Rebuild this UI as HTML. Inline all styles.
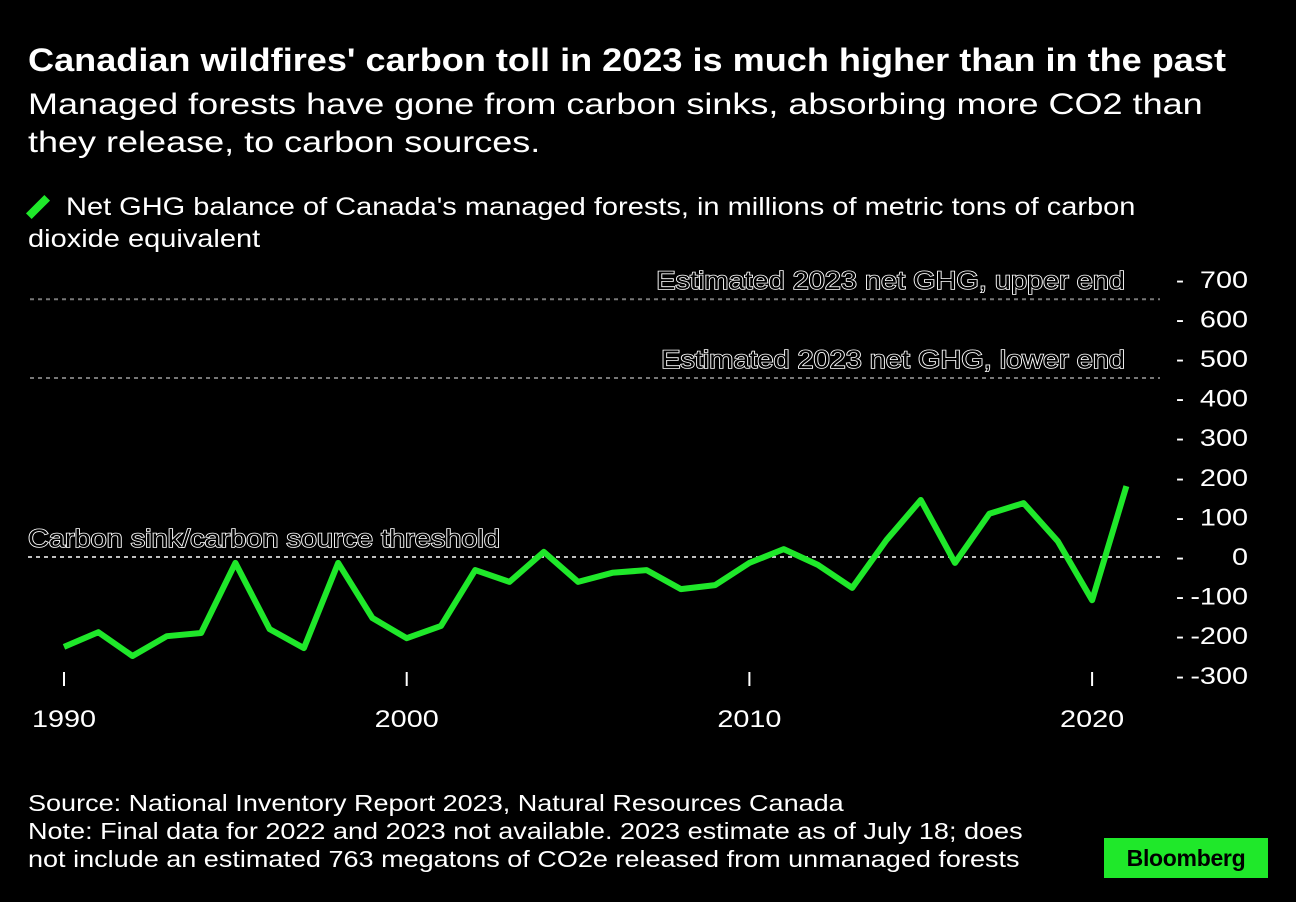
<!DOCTYPE html>
<html><head><meta charset="utf-8">
<style>
body{margin:0;background:#000;width:1296px;height:902px;overflow:hidden;font-family:"Liberation Sans",sans-serif;color:#fff}
.t{position:absolute;left:28px;white-space:nowrap;transform-origin:0 0}
</style></head><body>
<div class="t" style="top:42px;font-size:32px;font-weight:bold;transform:scaleX(1.128)">Canadian wildfires' carbon toll in 2023 is much higher than in the past</div>
<div class="t" style="top:86px;font-size:30px;line-height:38px;transform:scaleX(1.2)">Managed forests have gone from carbon sinks, absorbing more CO2 than<br>they release, to carbon sources.</div>
<div style="position:absolute;left:34px;top:194px;width:8px;height:26px;background:#1fe82a;transform:rotate(45deg);transform-origin:center"></div>
<div class="t" style="left:66px;top:191px;font-size:25px;line-height:32px;transform:scaleX(1.16)">Net GHG balance of Canada's managed forests, in millions of metric tons of carbon</div>
<div class="t" style="top:223px;font-size:25px;line-height:32px;transform:scaleX(1.16)">dioxide equivalent</div>
<svg id="c" width="1296" height="902" style="position:absolute;left:0;top:0"></svg>
<div class="t" style="top:789px;font-size:23px;line-height:28px;transform:scaleX(1.175)">Source: National Inventory Report 2023, Natural Resources Canada<br>Note: Final data for 2022 and 2023 not available. 2023 estimate as of July 18; does<br>not include an estimated 763 megatons of CO2e released from unmanaged forests</div>
<div style="position:absolute;left:1104px;top:838px;width:164px;height:40px;background:#1fe82a;color:#000;font-weight:bold;font-size:23px;line-height:40px;text-align:center;letter-spacing:-0.3px">Bloomberg</div>
<script>
const years=[1990,1991,1992,1993,1994,1995,1996,1997,1998,1999,2000,2001,2002,2003,2004,2005,2006,2007,2008,2009,2010,2011,2012,2013,2014,2015,2016,2017,2018,2019,2020,2021];
const values=[-227,-190,-250,-200,-192,-15,-182,-230,-15,-154,-205,-174,-33,-63,13,-63,-40,-33,-81,-71,-15,20,-20,-78,43,144,-15,109,136,40,-109,179];
const yTicks=[700,600,500,400,300,200,100,0,-100,-200,-300];
const xTicks=[1990,2000,2010,2020];
const refValues=[651,452,0];
const refLabels=["Estimated 2023 net GHG, upper end","Estimated 2023 net GHG, lower end","Carbon sink/carbon source threshold"];
const X=v=>64+(v-1990)*34.27;
const Y=v=>557-v*0.396;
const svg=document.getElementById('c');const NS='http://www.w3.org/2000/svg';
function mk(t,a,txt){const e=document.createElementNS(NS,t);for(const k in a)e.setAttribute(k,a[k]);if(txt!==undefined)e.textContent=txt;svg.appendChild(e);return e;}
function widen(e,r){const w=e.getComputedTextLength();e.setAttribute('textLength',w*r);e.setAttribute('lengthAdjust','spacingAndGlyphs');}
yTicks.forEach(v=>{const d=mk('text',{x:1176,y:Y(v)+8,'font-size':24,fill:'#fff','font-family':'Liberation Sans'},'-');


const e=mk('text',{x:1248,y:Y(v)+8,'font-size':24,fill:'#fff','text-anchor':'end','font-family':'Liberation Sans'},v);


widen(e,1.2);});
xTicks.forEach(v=>{const l=mk('line',{x1:X(v),x2:X(v),y1:672,y2:686,stroke:'#fff','stroke-width':2});


const e=mk('text',{x:X(v),y:727,'font-size':24,fill:'#fff','text-anchor':'middle','font-family':'Liberation Sans'},v);


widen(e,1.2);});
refValues.forEach((v,i)=>{const zero=i===2;
const l=mk('line',{x1:zero?28:30,x2:1160,y1:Y(v),y2:Y(v),stroke:zero?'#fff':'#777','stroke-width':zero?1.5:2,'stroke-dasharray':'4,4'});


const e=mk('text',{x:zero?28:1125,y:Y(v)-10,'font-size':25,fill:'#000',stroke:'#fff','stroke-width':1.6,'paint-order':'stroke','text-anchor':zero?'start':'end','font-family':'Liberation Sans'},refLabels[i]);


widen(e,1.155);});
const d=values.map((v,i)=>(i?'L':'M')+X(years[i]).toFixed(1)+','+Y(v).toFixed(1)).join('');
const p=mk('path',{d:d,fill:'none',stroke:'#1fe82a','stroke-width':6,'stroke-linejoin':'round','stroke-linecap':'butt'});


</script>
</body></html>
